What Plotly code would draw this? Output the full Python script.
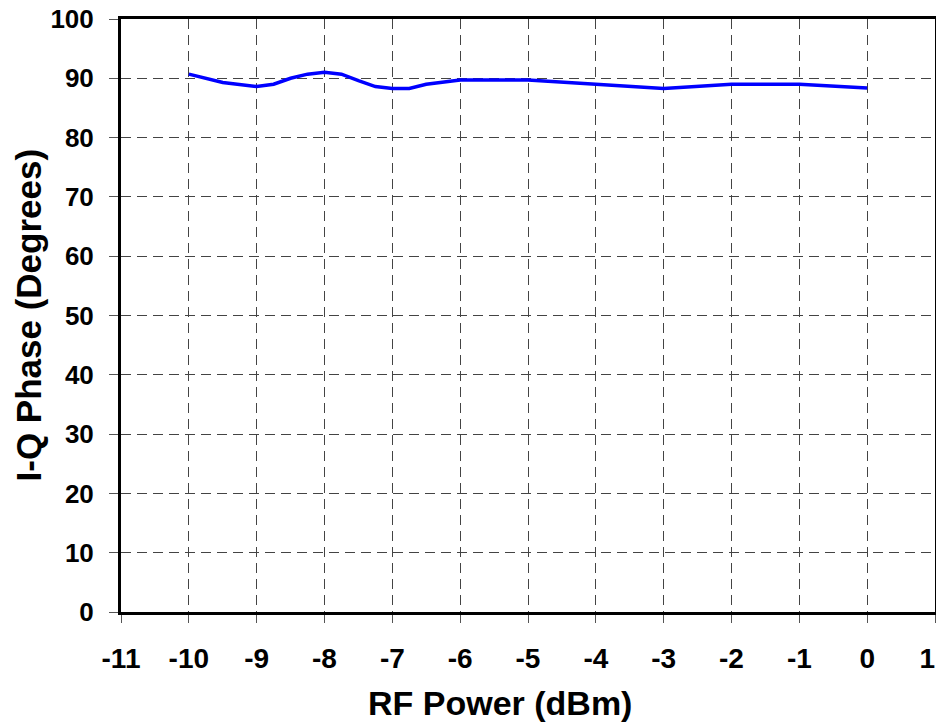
import plotly.graph_objects as go

rf_power_dbm = [-10, -9.5, -9, -8.75, -8.5, -8.25, -8, -7.75, -7.5, -7.25, -7, -6.75, -6.5, -6, -5, -4, -3, -2, -1, 0]
iq_phase_deg = [90.7, 89.3, 88.6, 89.0, 90.0, 90.7, 91.0, 90.7, 89.6, 88.6, 88.3, 88.3, 89.0, 89.7, 89.7, 89.0, 88.3, 89.0, 89.0, 88.35]

x_ticks = list(range(-11, 2))
x_tick_labels = ["-11", "-10", "-9", "-8", "-7", "-6", "-5", "-4", "-3", "-2", "-1", "0", "1\u00a0\u00a0"]
y_ticks = list(range(0, 101, 10))

fig = go.Figure()
fig.add_trace(go.Scatter(x=rf_power_dbm, y=iq_phase_deg, mode="lines",
                         line=dict(color="#0000FF", width=3.5), showlegend=False))

font_family = "Liberation Sans, Arial, sans-serif"
fig.update_layout(
    width=936, height=725,
    margin=dict(l=121, r=1, t=19, b=113, autoexpand=False),
    paper_bgcolor="white", plot_bgcolor="white",
    font=dict(family=font_family, color="black"),
    annotations=[
        dict(text="<b>RF Power (dBm)</b>", xref="paper", yref="paper", x=0.466, y=0,
             xanchor="center", yanchor="middle", yshift=-91, showarrow=False,
             font=dict(size=34, family=font_family)),
        dict(text="<b>I-Q Phase (Degrees)</b>", xref="paper", yref="paper", x=0, y=0.5,
             xanchor="center", yanchor="middle", xshift=-93, textangle=-90, showarrow=False,
             font=dict(size=35, family=font_family)),
    ],
)
fig.update_xaxes(
    range=[-11, 1], tickvals=x_ticks, ticktext=x_tick_labels,
    automargin=False, ticklabeloverflow="allow",
    showgrid=True, gridcolor="#444444", gridwidth=1, griddash="10px,6px",
    showline=True, linecolor="black", linewidth=3, mirror=True,
    ticks="outside", ticklen=8, tickcolor="#555555", tickwidth=1,
    tickfont=dict(size=28, family=font_family, weight="bold"),
    ticklabelstandoff=11,
    zeroline=False,
)
fig.update_yaxes(
    range=[0, 100], tickvals=y_ticks,
    automargin=False, ticklabeloverflow="allow",
    showgrid=True, gridcolor="#444444", gridwidth=1, griddash="10px,6px",
    showline=True, linecolor="black", linewidth=3, mirror=True,
    ticks="outside", ticklen=9, tickcolor="#555555", tickwidth=1,
    tickfont=dict(size=26, family=font_family, weight="bold"),
    ticklabelstandoff=10,
    zeroline=False,
)

fig.write_html("out.html", config={"displayModeBar": False},
               post_script="document.body.style.margin='0';document.body.style.overflow='hidden';")
